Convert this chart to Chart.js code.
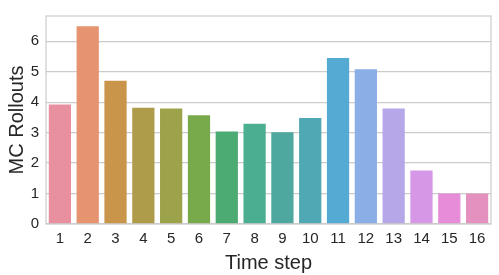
<!DOCTYPE html>
<html>
<head>
<meta charset="utf-8">
<script src="https://cdn.jsdelivr.net/npm/chart.js@4"></script>
<style>
  html, body { margin: 0; padding: 0; background: #fff; }
  #wrap { width: 499px; height: 275px; }
</style>
</head>
<body>
<div id="wrap"><canvas id="myChart" width="499" height="275"></canvas></div>
<script>
// data
const steps = ["1", "2", "3", "4", "5", "6", "7", "8", "9", "10", "11", "12", "13", "14", "15", "16"];
const rollouts = [3.92, 6.49, 4.70, 3.82, 3.79, 3.57, 3.04, 3.29, 3.01, 3.48, 5.45, 5.08, 3.79, 1.76, 1.0, 1.0];
const barColors = ["#e8909f", "#e6946f", "#c9954a", "#ae9c4a", "#9ca34a", "#78a94a", "#4cab72", "#4bae90",
                   "#4ea8a0", "#50a8b4", "#55aad3", "#8aaee6", "#b6a7e9", "#d597e6", "#e68cd8", "#e591bf"];
const yTicks = [0, 1, 2, 3, 4, 5, 6];

const gridGray = "#cccccc";
const textGray = "#262626";
const font = "'Liberation Sans', Arial, sans-serif";

// box around the plot area like the seaborn whitegrid axes
const frame = {
  id: "frame",
  afterDraw(chart) {
    const a = chart.chartArea, ctx = chart.ctx;
    ctx.save();
    ctx.strokeStyle = gridGray;
    ctx.lineWidth = 1.2;
    ctx.strokeRect(a.left, a.top, a.right - a.left, a.bottom - a.top);
    ctx.restore();
  }
};

window.onload = () => {
  new Chart(document.getElementById("myChart"), {
    type: "bar",
    data: {
      labels: steps,
      datasets: [{
        label: "MC Rollouts",
        data: rollouts,
        backgroundColor: barColors,
        borderWidth: 0,
        categoryPercentage: 1.0,
        barPercentage: 0.8
      }]
    },
    options: {
      responsive: false,
      animation: false,
      layout: { padding: { top: 6, right: 8, left: 5, bottom: 0 } },
      plugins: { legend: { display: false }, tooltip: { enabled: false } },
      scales: {
        x: {
          grid: { display: false, drawTicks: false },
          border: { display: false },
          ticks: { color: textGray, font: { family: font, size: 15 }, padding: 6, maxRotation: 0 },
          title: { display: true, text: "Time step", color: textGray, font: { family: font, size: 20 }, padding: { top: 0, bottom: 0 } },
          afterFit: s => { s.height = 51; }
        },
        y: {
          min: 0,
          max: 6.83,
          grid: { color: gridGray, lineWidth: 1.2, drawTicks: false },
          border: { display: false },
          ticks: { color: textGray, font: { family: font, size: 15 }, padding: 7, stepSize: 1 },
          afterBuildTicks: s => { s.ticks = yTicks.map(v => ({ value: v })); },
          title: { display: true, text: "MC Rollouts", color: textGray, font: { family: font, size: 20 }, padding: { top: 0, bottom: 4 } },
          afterFit: s => { s.width = 41; }
        }
      }
    },
    plugins: [frame]
  });
};
</script>
</body>
</html>
